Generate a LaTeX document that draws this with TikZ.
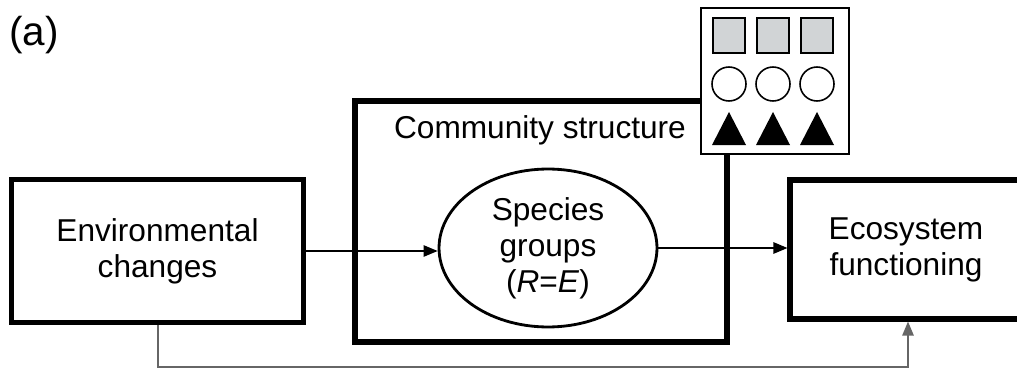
\documentclass[tikz,border=0pt]{standalone}
\usepackage{fontspec}
\setmainfont{Liberation Sans}
\usepackage{tikz}
\usetikzlibrary{shapes.geometric,arrows.meta}
\definecolor{sqgray}{rgb}{0.82, 0.83, 0.84}

\begin{document}
\begin{tikzpicture}[x=0.02cm,y=-0.02cm,
  bigbox/.style={draw, line width=2.9pt, minimum width=#1, inner sep=0pt},
  lbl/.style={font=\fontsize{18}{20.5}\selectfont, align=center},
  arr/.style={line width=0.8pt, -{Triangle[length=8pt,width=6.5pt]}},
]
\useasboundingbox (0,0) rectangle (1017,375);

% Panel letter
\node[anchor=west, font=\fontsize{23}{26}\selectfont, inner sep=0pt] (panel) at (9,35) {(a)};

% Outer boxes
\node[bigbox=5.84cm, minimum height=2.86cm, lbl] (env) at (157.5,251) {Environmental\\changes};
\node[bigbox=7.44cm, minimum height=4.82cm, line width=3.2pt] (comm) at (541,221.5) {};
\node[bigbox=4.64cm, minimum height=2.78cm, lbl] (eco) at (906,249.5) {Ecosystem\\functioning};
\node[lbl] (commtxt) at (540,130) {Community structure};

% Species groups ellipse
\node[ellipse, draw, line width=1.6pt, minimum width=4.36cm, minimum height=3.16cm,
      inner sep=0pt, lbl] (grp) at (548,248) {Species\\groups\\(\textit{R}=\textit{E})};

% Inset with the groups
\node[draw, fill=white, line width=1.1pt, minimum width=2.96cm, minimum height=2.92cm] (inset) at (775,81) {};
\foreach \cx in {729,773,817} {
  \draw[fill=sqgray, line width=0.9pt] (\cx-16,18) rectangle (\cx+16,53);
  \draw[line width=0.9pt] (\cx,84) circle (17);
  \fill (\cx-17,145) -- (\cx,112) -- (\cx+17,145) -- cycle;
}

% Connectors
\draw[arr] (env.east) -- (env.east -| grp.west);
\draw[arr] (grp.east) -- (grp.east -| eco.west);
\draw[arr, black!60] ([xshift=0.01cm]env.south) -- ++(0,42) -| ([xshift=0.04cm]eco.south);

\end{tikzpicture}
\end{document}
